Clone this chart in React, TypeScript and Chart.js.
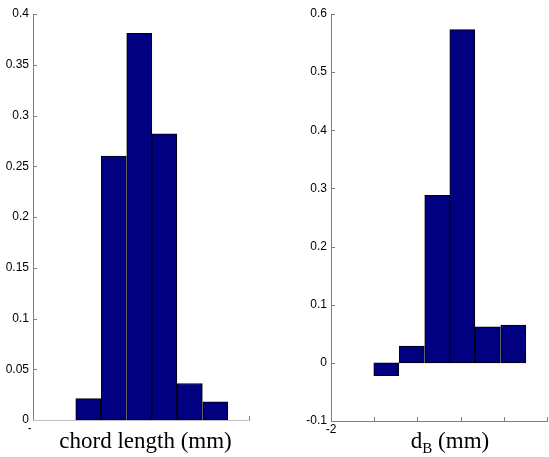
import React, { useEffect, useRef } from "react";
import { Chart, registerables } from "chart.js";

Chart.register(...registerables);

// Bin centres (x units, axis -2 .. 3)
const binCentersLeft = [-0.72, -0.13, 0.46, 1.04, 1.63, 2.22];
const binCentersRight = [-0.72, -0.13, 0.46, 1.04, 1.63, 2.22];
// Relative frequencies
const chordValues = [0.021, 0.26, 0.381, 0.282, 0.036, 0.018];
const dbValues = [-0.022, 0.029, 0.288, 0.573, 0.062, 0.065];
// Axis settings
const xTickValues = [-2, -1, 0, 1, 2, 3];
const leftYRange = [0, 0.4, 0.05];
const rightYRange = [-0.1, 0.6, 0.1];
const leftLabel = "chord length (mm)";
const rightLabelMain = "d";
const rightLabelSub = "B";
const rightLabelTail = " (mm)";

const AXIS_GRAY = "#7f7f7f";
const BAR_FILL = "#000080";
const SERIF = "'Liberation Serif', 'Times New Roman', serif";
const SANS = "'Liberation Sans', Arial, sans-serif";

const fmt = (v: any) => {
  const r = Math.round(Number(v) * 10000) / 10000;
  return String(r === 0 ? 0 : r);
};

type PanelCfg = {
  width: number;
  centers: number[];
  values: number[];
  yRange: number[];
  yWidth: number;
  xHeight: number;
  padRight: number;
  box: [number, number, number, number];
  labelCenter: number;
  kind: "left" | "right";
};

function makeChart(canvas: HTMLCanvasElement, cfg: PanelCfg) {
  const ticksPlugin = {
    id: "insideTicks",
    beforeDatasetsDraw(chart: any) {
      const { ctx, chartArea, scales } = chart;
      ctx.save();
      ctx.strokeStyle = AXIS_GRAY;
      ctx.lineWidth = 1;
      ctx.beginPath();
      scales.y.ticks.forEach((t: any) => {
        const py = Math.round(scales.y.getPixelForValue(t.value)) + 0.5;
        ctx.moveTo(chartArea.left, py);
        ctx.lineTo(chartArea.left + 4, py);
      });
      xTickValues.forEach((v) => {
        const px = Math.round(scales.x.getPixelForValue(v)) + 0.5;
        ctx.moveTo(px, chartArea.bottom);
        ctx.lineTo(px, chartArea.bottom - 4);
      });
      ctx.stroke();
      ctx.restore();
    },
    afterDraw(chart: any) {
      const { ctx } = chart;
      const [bx0, by0, bx1, by1] = cfg.box;
      ctx.save();
      ctx.fillStyle = "#ffffff";
      ctx.fillRect(bx0, by0, bx1 - bx0, by1 - by0);
      ctx.fillStyle = "#000000";
      ctx.textBaseline = "alphabetic";
      const baseline = 448;
      if (cfg.kind === "left") {
        ctx.font = `23px ${SERIF}`;
        ctx.textAlign = "center";
        ctx.fillText(leftLabel, cfg.labelCenter, baseline);
      } else {
        ctx.textAlign = "left";
        ctx.font = `23px ${SERIF}`;
        const w1 = ctx.measureText(rightLabelMain).width;
        const w3 = ctx.measureText(rightLabelTail).width;
        ctx.font = `15px ${SERIF}`;
        const w2 = ctx.measureText(rightLabelSub).width;
        const total = w1 + w2 + w3;
        let x = cfg.labelCenter - total / 2;
        ctx.font = `23px ${SERIF}`;
        ctx.fillText(rightLabelMain, x, baseline);
        x += w1;
        ctx.font = `15px ${SERIF}`;
        ctx.fillText(rightLabelSub, x, baseline + 5);
        x += w2;
        ctx.font = `23px ${SERIF}`;
        ctx.fillText(rightLabelTail, x, baseline);
      }
      ctx.restore();
    },
  };

  return new Chart(canvas, {
    type: "bar",
    data: {
      datasets: [
        {
          data: cfg.centers.map((c, i) => ({ x: c, y: cfg.values[i] })),
          backgroundColor: BAR_FILL,
          borderColor: "#000000",
          borderWidth: 1,
          borderSkipped: false,
          categoryPercentage: 1,
          barPercentage: 1,
        },
      ],
    },
    options: {
      animation: false,
      responsive: false,
      devicePixelRatio: 1,
      layout: { padding: { top: 14, right: cfg.padRight, bottom: 0, left: 0 } },
      plugins: { legend: { display: false }, tooltip: { enabled: false } },
      scales: {
        x: {
          type: "linear",
          min: -2,
          max: 3,
          offset: false,
          grid: { display: false, drawTicks: false },
          border: { display: true, color: AXIS_GRAY, width: 1 },
          ticks: {
            stepSize: 1,
            padding: 1,
            color: "#000",
            font: { family: SANS, size: 12 },
            maxRotation: 0,
            autoSkip: false,
            callback: (v: any) => (Number(v) === -2 ? "-2" : ""),
          },
          afterFit: (s: any) => {
            s.height = cfg.xHeight;
          },
        },
        y: {
          type: "linear",
          min: cfg.yRange[0],
          max: cfg.yRange[1],
          grid: { display: false, drawTicks: false },
          border: { display: true, color: AXIS_GRAY, width: 1 },
          ticks: {
            stepSize: cfg.yRange[2],
            padding: 4,
            color: "#000",
            font: { family: SANS, size: 12 },
            callback: fmt,
          },
          afterFit: (s: any) => {
            s.width = cfg.yWidth;
          },
        },
      },
    },
    plugins: [ticksPlugin],
  } as any);
}

export default function App() {
  const leftRef = useRef<HTMLCanvasElement>(null);
  const rightRef = useRef<HTMLCanvasElement>(null);

  useEffect(() => {
    const c1 = makeChart(leftRef.current!, {
      width: 290,
      centers: binCentersLeft,
      values: chordValues,
      yRange: leftYRange,
      yWidth: 33,
      xHeight: 37,
      padRight: 41,
      box: [31, 420.5, 290, 457],
      labelCenter: 145.5,
      kind: "left",
    });
    const c2 = makeChart(rightRef.current!, {
      width: 259,
      centers: binCentersRight,
      values: dbValues,
      yRange: rightYRange,
      yWidth: 41,
      xHeight: 36,
      padRight: 2,
      box: [51, 422, 259, 457],
      labelCenter: 160,
      kind: "right",
    });
    return () => {
      c1.destroy();
      c2.destroy();
    };
  }, []);

  return (
    <div
      style={{
        position: "fixed",
        left: 0,
        top: 0,
        width: 549,
        height: 457,
        background: "#fff",
      }}
    >
      <canvas
        ref={leftRef}
        width={290}
        height={457}
        style={{ position: "absolute", left: 0, top: 0, width: 290, height: 457 }}
      />
      <canvas
        ref={rightRef}
        width={259}
        height={457}
        style={{ position: "absolute", left: 290, top: 0, width: 259, height: 457 }}
      />
    </div>
  );
}
